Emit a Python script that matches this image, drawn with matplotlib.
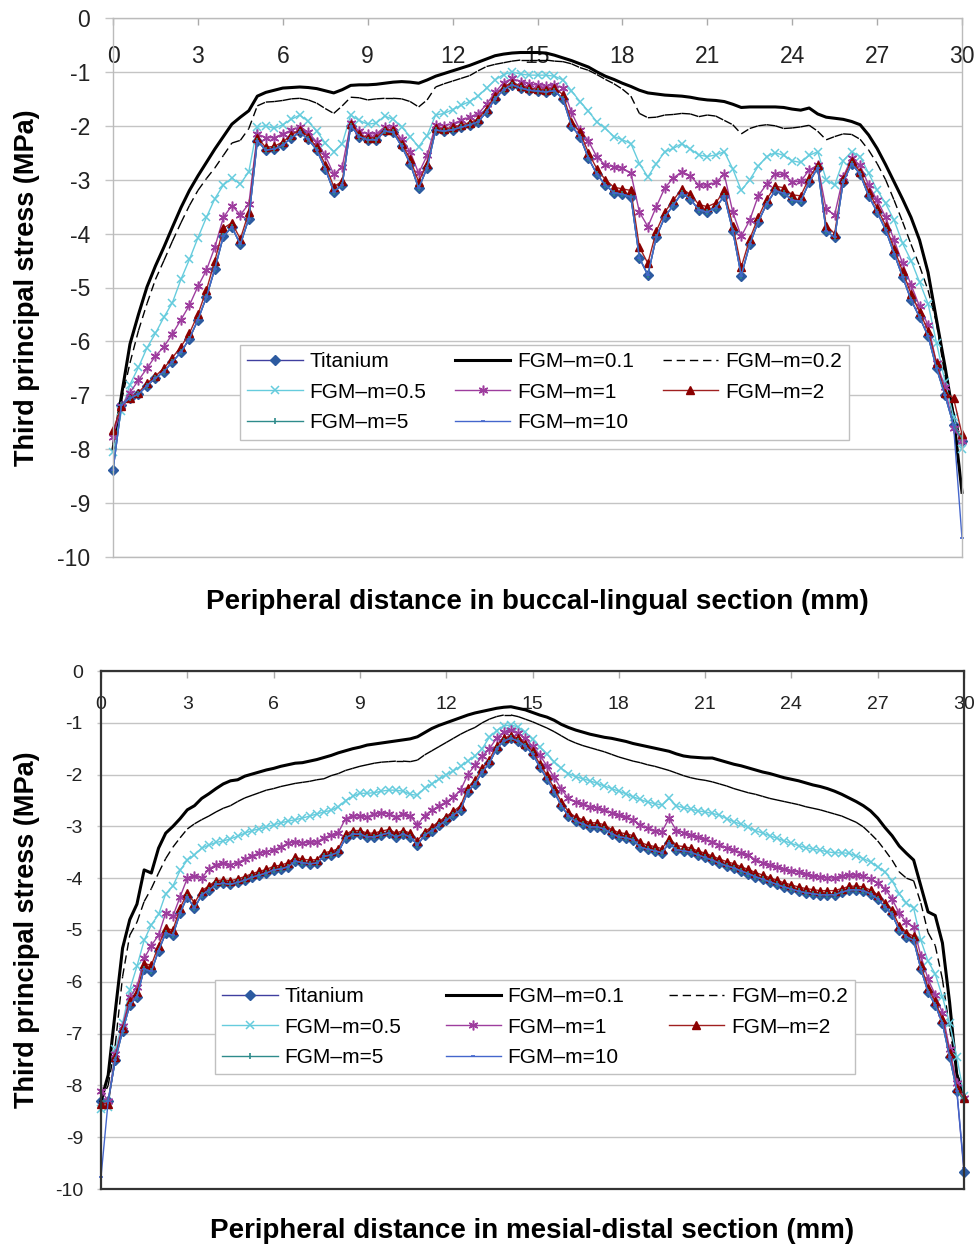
import numpy as np
import matplotlib
matplotlib.use("Agg")
import matplotlib.pyplot as plt
from matplotlib.collections import LineCollection
from matplotlib.lines import Line2D

plt.rcParams['font.family'] = ['Liberation Sans', 'DejaVu Sans']
plt.rcParams['axes.unicode_minus'] = False

# peripheral distance of the sampled nodes (mm)
x_bl = np.linspace(0, 30, 101)   # buccal-lingual section
x_md = np.linspace(0, 30, 121)   # mesial-distal section

# ---------------- buccal-lingual section (MPa) ----------------
titanium_bl = [-8.39, -7.18, -7.05, -6.98, -6.82, -6.68, -6.56, -6.38, -6.2, -5.95,
               -5.6, -5.18, -4.65, -4.05, -3.88, -4.2, -3.72, -2.28, -2.45, -2.43,
               -2.36, -2.22, -2.12, -2.25, -2.45, -2.8, -3.22, -3.1, -2.0, -2.2,
               -2.26, -2.26, -2.1, -2.12, -2.38, -2.7, -3.16, -2.78, -2.08, -2.1,
               -2.07, -2.03, -1.98, -1.93, -1.74, -1.5, -1.33, -1.24, -1.3, -1.34,
               -1.36, -1.37, -1.35, -1.5, -2.0, -2.2, -2.6, -2.9, -3.1, -3.24,
               -3.27, -3.32, -4.45, -4.77, -4.06, -3.69, -3.47, -3.25, -3.36, -3.56,
               -3.6, -3.52, -3.3, -3.95, -4.78, -4.2, -3.78, -3.45, -3.2, -3.25,
               -3.38, -3.4, -3.05, -2.78, -3.95, -4.07, -3.05, -2.7, -2.9, -3.3,
               -3.6, -3.93, -4.37, -4.8, -5.23, -5.55, -5.9, -6.5, -7.0, -7.55,
               -7.85]
fgm01_bl = [-8.0, -7.0, -6.05, -5.5, -4.99, -4.6, -4.25, -3.88, -3.52, -3.2,
            -2.93, -2.68, -2.43, -2.2, -1.97, -1.84, -1.72, -1.45, -1.38, -1.34,
            -1.3, -1.29, -1.28, -1.29, -1.31, -1.35, -1.39, -1.33, -1.25, -1.24,
            -1.24, -1.23, -1.21, -1.19, -1.18, -1.19, -1.21, -1.15, -1.08, -1.03,
            -0.98, -0.93, -0.88, -0.82, -0.76, -0.7, -0.67, -0.65, -0.64, -0.64,
            -0.64, -0.65, -0.69, -0.74, -0.79, -0.85, -0.91, -1.0, -1.08, -1.14,
            -1.21, -1.27, -1.34, -1.39, -1.41, -1.43, -1.44, -1.45, -1.47, -1.5,
            -1.52, -1.53, -1.55, -1.6, -1.66, -1.65, -1.65, -1.65, -1.65, -1.66,
            -1.69, -1.71, -1.67, -1.78, -1.84, -1.86, -1.88, -1.92, -1.98, -2.17,
            -2.42, -2.72, -3.04, -3.36, -3.7, -4.12, -4.72, -5.6, -6.47, -7.4,
            -8.8]
fgm02_bl = [-7.9, -7.1, -6.4, -5.8, -5.3, -4.85, -4.5, -4.14, -3.8, -3.48,
            -3.2, -2.98, -2.78, -2.55, -2.32, -2.27, -2.05, -1.63, -1.56, -1.55,
            -1.53, -1.5, -1.49, -1.52, -1.58, -1.68, -1.77, -1.63, -1.47, -1.48,
            -1.52, -1.5, -1.49, -1.49, -1.5, -1.55, -1.65, -1.52, -1.28, -1.22,
            -1.17, -1.12, -1.07, -0.98, -0.9, -0.86, -0.83, -0.8, -0.78, -0.78,
            -0.78, -0.78, -0.8, -0.81, -0.85, -0.92, -0.97, -1.05, -1.14, -1.22,
            -1.32, -1.45, -1.77, -1.85, -1.84, -1.8, -1.79, -1.77, -1.78, -1.83,
            -1.8, -1.82, -1.9, -1.98, -2.15, -2.05, -2.0, -1.98, -2.0, -2.05,
            -2.04, -2.02, -1.99, -2.1, -2.26, -2.2, -2.15, -2.16, -2.25, -2.45,
            -2.7, -3.0, -3.38, -3.78, -4.2, -4.6, -5.05, -5.66, -6.65, -7.3,
            -7.9]
fgm05_bl = [-8.05, -7.3, -6.8, -6.48, -6.12, -5.85, -5.55, -5.28, -4.85, -4.48,
            -4.08, -3.7, -3.35, -3.1, -2.97, -3.08, -2.85, -2.02, -2.0, -2.05,
            -1.98, -1.88, -1.8, -1.92, -2.1, -2.32, -2.48, -2.33, -1.8, -1.9,
            -1.97, -1.95, -1.82, -1.88, -2.02, -2.2, -2.39, -2.18, -1.8, -1.77,
            -1.7, -1.62, -1.55, -1.45, -1.3, -1.15, -1.05, -1.0, -1.04, -1.06,
            -1.06, -1.06, -1.08, -1.15, -1.35, -1.55, -1.73, -1.93, -2.05, -2.2,
            -2.26, -2.33, -2.7, -2.95, -2.7, -2.48, -2.42, -2.33, -2.43, -2.54,
            -2.57, -2.54, -2.48, -2.8, -3.2, -3.0, -2.75, -2.57, -2.5, -2.55,
            -2.65, -2.68, -2.55, -2.48, -3.0, -3.1, -2.65, -2.48, -2.57, -2.88,
            -3.19, -3.44, -3.75, -4.18, -4.5, -4.9, -5.3, -6.03, -6.75, -7.4,
            -8.0]
fgm1_bl = [-7.77, -7.2, -6.95, -6.72, -6.5, -6.27, -6.1, -5.86, -5.6, -5.33,
           -4.98, -4.68, -4.25, -3.7, -3.48, -3.65, -3.45, -2.15, -2.22, -2.22,
           -2.15, -2.08, -2.02, -2.12, -2.3, -2.55, -2.9, -2.76, -1.95, -2.1,
           -2.15, -2.15, -2.02, -2.03, -2.25, -2.48, -2.88, -2.55, -1.98, -2.0,
           -1.96, -1.9, -1.84, -1.78, -1.6, -1.38, -1.2, -1.12, -1.18, -1.22,
           -1.25, -1.27, -1.24, -1.3, -1.75, -2.08, -2.28, -2.58, -2.73, -2.76,
           -2.79, -2.88, -3.6, -3.87, -3.5, -3.15, -2.97, -2.85, -2.93, -3.1,
           -3.1, -3.05, -2.9, -3.6, -4.05, -3.75, -3.3, -3.08, -2.9, -2.9,
           -3.04, -3.03, -2.82, -2.73, -3.55, -3.65, -2.95, -2.6, -2.73, -3.1,
           -3.38, -3.69, -4.12, -4.55, -4.95, -5.35, -5.7, -6.4, -6.85, -7.6,
           -7.85]
fgm2_bl = [-7.65, -7.2, -7.05, -6.95, -6.78, -6.64, -6.5, -6.3, -6.1, -5.85,
           -5.5, -5.05, -4.5, -3.9, -3.8, -4.1, -3.6, -2.22, -2.4, -2.38,
           -2.3, -2.17, -2.07, -2.2, -2.4, -2.72, -3.13, -3.03, -1.97, -2.16,
           -2.22, -2.22, -2.07, -2.08, -2.33, -2.62, -3.04, -2.7, -2.04, -2.06,
           -2.03, -1.99, -1.94, -1.88, -1.68, -1.45, -1.28, -1.2, -1.26, -1.3,
           -1.32, -1.33, -1.3, -1.42, -1.93, -2.12, -2.5, -2.8, -3.0, -3.14,
           -3.17, -3.2, -4.25, -4.55, -3.95, -3.6, -3.38, -3.17, -3.27, -3.46,
           -3.5, -3.43, -3.2, -3.85, -4.62, -4.1, -3.7, -3.36, -3.12, -3.15,
           -3.28, -3.3, -2.97, -2.72, -3.85, -4.0, -2.98, -2.65, -2.85, -3.22,
           -3.52, -3.85, -4.28, -4.7, -5.12, -5.45, -5.8, -6.4, -6.95, -7.05,
           -7.72]
fgm5_bl = [-8.39, -7.18, -7.05, -6.98, -6.82, -6.68, -6.56, -6.38, -6.2, -5.95,
           -5.6, -5.18, -4.65, -4.05, -3.88, -4.2, -3.72, -2.28, -2.45, -2.43,
           -2.36, -2.22, -2.12, -2.25, -2.45, -2.8, -3.22, -3.1, -2.0, -2.2,
           -2.26, -2.26, -2.1, -2.12, -2.38, -2.7, -3.16, -2.78, -2.08, -2.1,
           -2.07, -2.03, -1.98, -1.93, -1.74, -1.5, -1.33, -1.24, -1.3, -1.34,
           -1.36, -1.37, -1.35, -1.5, -2.0, -2.2, -2.6, -2.9, -3.1, -3.24,
           -3.27, -3.32, -4.45, -4.77, -4.06, -3.69, -3.47, -3.25, -3.36, -3.56,
           -3.6, -3.52, -3.3, -3.95, -4.78, -4.2, -3.78, -3.45, -3.2, -3.25,
           -3.38, -3.4, -3.05, -2.78, -3.95, -4.07, -3.05, -2.7, -2.9, -3.3,
           -3.6, -3.93, -4.37, -4.8, -5.23, -5.55, -5.9, -6.5, -7.0, -7.55,
           -7.8]
fgm10_bl = [-8.39, -7.18, -7.05, -6.98, -6.82, -6.68, -6.56, -6.38, -6.2, -5.95,
            -5.6, -5.18, -4.65, -4.05, -3.88, -4.2, -3.72, -2.28, -2.45, -2.43,
            -2.36, -2.22, -2.12, -2.25, -2.45, -2.8, -3.22, -3.1, -2.0, -2.2,
            -2.26, -2.26, -2.1, -2.12, -2.38, -2.7, -3.16, -2.78, -2.08, -2.1,
            -2.07, -2.03, -1.98, -1.93, -1.74, -1.5, -1.33, -1.24, -1.3, -1.34,
            -1.36, -1.37, -1.35, -1.5, -2.0, -2.2, -2.6, -2.9, -3.1, -3.24,
            -3.27, -3.32, -4.45, -4.77, -4.06, -3.69, -3.47, -3.25, -3.36, -3.56,
            -3.6, -3.52, -3.3, -3.95, -4.78, -4.2, -3.78, -3.45, -3.2, -3.25,
            -3.38, -3.4, -3.05, -2.78, -3.95, -4.07, -3.05, -2.7, -2.9, -3.3,
            -3.6, -3.93, -4.37, -4.8, -5.23, -5.55, -5.9, -6.5, -7.0, -7.55,
            -9.65]

# ---------------- mesial-distal section (MPa) ----------------
titanium_md = [-8.3, -8.3, -7.5, -6.95, -6.45, -6.29, -5.75, -5.8, -5.4, -5.06,
               -5.1, -4.67, -4.36, -4.58, -4.32, -4.23, -4.12, -4.1, -4.12, -4.08,
               -4.04, -3.98, -3.94, -3.9, -3.84, -3.82, -3.78, -3.67, -3.7, -3.72,
               -3.71, -3.58, -3.55, -3.5, -3.22, -3.15, -3.15, -3.2, -3.2, -3.16,
               -3.13, -3.2, -3.15, -3.2, -3.36, -3.17, -3.08, -2.98, -2.88, -2.78,
               -2.68, -2.33, -2.18, -1.95, -1.78, -1.5, -1.35, -1.3, -1.35, -1.45,
               -1.6, -1.85, -2.08, -2.33, -2.6, -2.8, -2.9, -2.95, -3.01, -3.01,
               -3.05, -3.14, -3.2, -3.22, -3.26, -3.4, -3.44, -3.47, -3.51, -3.32,
               -3.45, -3.47, -3.5, -3.55, -3.6, -3.65, -3.71, -3.76, -3.8, -3.86,
               -3.91, -3.97, -4.02, -4.07, -4.12, -4.17, -4.21, -4.25, -4.28, -4.3,
               -4.32, -4.32, -4.32, -4.27, -4.23, -4.22, -4.24, -4.3, -4.4, -4.55,
               -4.7, -5.0, -5.13, -5.2, -5.75, -6.2, -6.45, -6.8, -7.45, -8.1,
               -9.67]
fgm01_md = [-8.3, -7.8, -6.55, -5.35, -4.8, -4.5, -3.84, -3.9, -3.42, -3.13,
            -3.0, -2.85, -2.68, -2.6, -2.46, -2.37, -2.27, -2.18, -2.12, -2.1,
            -2.03, -1.99, -1.95, -1.91, -1.88, -1.84, -1.81, -1.78, -1.77, -1.74,
            -1.71, -1.67, -1.63, -1.58, -1.54, -1.5, -1.47, -1.43, -1.41, -1.39,
            -1.37, -1.35, -1.33, -1.31, -1.27, -1.19, -1.11, -1.05, -1.0, -0.95,
            -0.9, -0.85, -0.81, -0.78, -0.75, -0.72, -0.7, -0.69, -0.72, -0.75,
            -0.8, -0.85, -0.89, -0.95, -1.03, -1.09, -1.14, -1.18, -1.22, -1.25,
            -1.28, -1.3, -1.33, -1.36, -1.4, -1.43, -1.46, -1.49, -1.52, -1.55,
            -1.6, -1.64, -1.66, -1.67, -1.68, -1.68, -1.72, -1.76, -1.8, -1.83,
            -1.87, -1.91, -1.95, -1.98, -2.02, -2.06, -2.09, -2.12, -2.16, -2.2,
            -2.23, -2.27, -2.32, -2.38, -2.45, -2.52, -2.6, -2.7, -2.84, -3.02,
            -3.18, -3.38, -3.52, -3.65, -4.15, -4.65, -4.72, -5.25, -6.4, -7.8,
            -8.2]
fgm02_md = [-8.3, -8.0, -7.2, -5.9, -5.1, -4.85, -4.45, -4.2, -3.9, -3.62,
            -3.4, -3.22, -3.05, -2.95, -2.87, -2.8, -2.72, -2.65, -2.6, -2.52,
            -2.45, -2.4, -2.35, -2.3, -2.27, -2.23, -2.2, -2.17, -2.15, -2.13,
            -2.1, -2.08, -2.02, -1.98, -1.92, -1.88, -1.84, -1.81, -1.78, -1.76,
            -1.75, -1.74, -1.74, -1.75, -1.72, -1.62, -1.54, -1.46, -1.38, -1.3,
            -1.22, -1.15, -1.09, -1.0, -0.93, -0.88, -0.85, -0.85, -0.88, -0.93,
            -0.98, -1.04, -1.1, -1.17, -1.25, -1.33, -1.39, -1.44, -1.48, -1.52,
            -1.56, -1.61, -1.66, -1.7, -1.74, -1.77, -1.81, -1.84, -1.88, -1.92,
            -1.97, -2.02, -2.06, -2.09, -2.11, -2.14, -2.18, -2.22, -2.27, -2.31,
            -2.35, -2.38, -2.42, -2.46, -2.49, -2.52, -2.55, -2.58, -2.62, -2.65,
            -2.68, -2.72, -2.76, -2.8, -2.86, -2.92, -3.01, -3.14, -3.28, -3.46,
            -3.65, -3.88, -4.0, -4.05, -4.48, -5.05, -5.3, -5.95, -6.9, -7.75,
            -8.15]
fgm05_md = [-8.45, -8.42, -7.3, -6.8, -6.15, -5.7, -5.2, -4.9, -4.7, -4.3,
            -4.15, -3.85, -3.65, -3.55, -3.42, -3.36, -3.31, -3.28, -3.24, -3.19,
            -3.13, -3.08, -3.05, -3.01, -2.97, -2.93, -2.9, -2.87, -2.84, -2.8,
            -2.76, -2.72, -2.69, -2.62, -2.5, -2.42, -2.36, -2.36, -2.35, -2.32,
            -2.3, -2.3, -2.32, -2.38, -2.4, -2.26, -2.18, -2.09, -2.0, -1.93,
            -1.84, -1.74, -1.64, -1.5, -1.28, -1.15, -1.06, -1.04, -1.08, -1.18,
            -1.32, -1.47, -1.6, -1.75, -1.88, -1.98, -2.04, -2.08, -2.12, -2.17,
            -2.22, -2.27, -2.32, -2.37, -2.43, -2.48, -2.53, -2.56, -2.59, -2.46,
            -2.6, -2.64, -2.67, -2.7, -2.72, -2.75, -2.78, -2.85, -2.91, -2.96,
            -3.02, -3.08, -3.13, -3.18, -3.23, -3.28, -3.33, -3.37, -3.41, -3.44,
            -3.46, -3.49, -3.51, -3.51, -3.52, -3.57, -3.62, -3.69, -3.78, -3.88,
            -4.05, -4.3, -4.48, -4.58, -5.2, -5.6, -5.85, -6.29, -6.8, -7.45,
            -8.2]
fgm1_md = [-8.1, -8.3, -7.4, -6.85, -6.3, -6.1, -5.55, -5.3, -5.1, -4.67,
           -4.73, -4.36, -4.0, -3.95, -4.0, -3.82, -3.74, -3.71, -3.74, -3.7,
           -3.63, -3.57, -3.52, -3.49, -3.46, -3.4, -3.32, -3.3, -3.32, -3.31,
           -3.3, -3.22, -3.17, -3.12, -2.85, -2.79, -2.8, -2.82, -2.76, -2.74,
           -2.76, -2.82, -2.76, -2.8, -2.97, -2.79, -2.69, -2.6, -2.53, -2.43,
           -2.3, -2.0, -1.82, -1.65, -1.5, -1.3, -1.18, -1.14, -1.2, -1.3,
           -1.45, -1.62, -1.83, -2.05, -2.28, -2.46, -2.53, -2.57, -2.62, -2.64,
           -2.68, -2.74, -2.78, -2.82, -2.88, -2.97, -3.04, -3.08, -3.1, -2.84,
           -3.08, -3.12, -3.16, -3.2, -3.25, -3.3, -3.36, -3.41, -3.46, -3.51,
           -3.56, -3.64, -3.7, -3.74, -3.78, -3.82, -3.86, -3.88, -3.91, -3.95,
           -3.98, -3.99, -4.0, -3.96, -3.94, -3.94, -3.96, -4.02, -4.1, -4.2,
           -4.4, -4.68, -4.85, -4.95, -5.5, -5.95, -6.25, -6.6, -7.3, -7.95,
           -8.25]
fgm2_md = [-8.35, -8.35, -7.45, -6.9, -6.38, -6.2, -5.65, -5.68, -5.3, -4.97,
           -5.0, -4.58, -4.28, -4.48, -4.24, -4.15, -4.05, -4.03, -4.05, -4.01,
           -3.97, -3.91, -3.87, -3.83, -3.77, -3.75, -3.7, -3.6, -3.63, -3.65,
           -3.64, -3.51, -3.48, -3.43, -3.15, -3.08, -3.08, -3.13, -3.13, -3.09,
           -3.06, -3.13, -3.08, -3.13, -3.28, -3.1, -3.01, -2.91, -2.81, -2.71,
           -2.6, -2.26, -2.11, -1.88, -1.71, -1.44, -1.3, -1.25, -1.3, -1.4,
           -1.55, -1.79, -2.01, -2.26, -2.52, -2.72, -2.82, -2.87, -2.93, -2.93,
           -2.97, -3.06, -3.12, -3.14, -3.18, -3.31, -3.36, -3.39, -3.43, -3.24,
           -3.37, -3.39, -3.42, -3.47, -3.52, -3.57, -3.63, -3.68, -3.72, -3.78,
           -3.83, -3.89, -3.94, -3.99, -4.04, -4.09, -4.13, -4.17, -4.2, -4.22,
           -4.24, -4.24, -4.24, -4.2, -4.16, -4.15, -4.17, -4.23, -4.32, -4.47,
           -4.62, -4.92, -5.05, -5.12, -5.67, -6.12, -6.38, -6.72, -7.38, -8.05,
           -8.25]
fgm5_md = [-8.3, -8.3, -7.5, -6.95, -6.45, -6.29, -5.75, -5.8, -5.4, -5.06,
           -5.1, -4.67, -4.36, -4.58, -4.32, -4.23, -4.12, -4.1, -4.12, -4.08,
           -4.04, -3.98, -3.94, -3.9, -3.84, -3.82, -3.78, -3.67, -3.7, -3.72,
           -3.71, -3.58, -3.55, -3.5, -3.22, -3.15, -3.15, -3.2, -3.2, -3.16,
           -3.13, -3.2, -3.15, -3.2, -3.36, -3.17, -3.08, -2.98, -2.88, -2.78,
           -2.68, -2.33, -2.18, -1.95, -1.78, -1.5, -1.35, -1.3, -1.35, -1.45,
           -1.6, -1.85, -2.08, -2.33, -2.6, -2.8, -2.9, -2.95, -3.01, -3.01,
           -3.05, -3.14, -3.2, -3.22, -3.26, -3.4, -3.44, -3.47, -3.51, -3.32,
           -3.45, -3.47, -3.5, -3.55, -3.6, -3.65, -3.71, -3.76, -3.8, -3.86,
           -3.91, -3.97, -4.02, -4.07, -4.12, -4.17, -4.21, -4.25, -4.28, -4.3,
           -4.32, -4.32, -4.32, -4.27, -4.23, -4.22, -4.24, -4.3, -4.4, -4.55,
           -4.7, -5.0, -5.13, -5.2, -5.75, -6.2, -6.45, -6.8, -7.45, -8.1,
           -8.28]
fgm10_md = [-9.77, -8.3, -7.5, -6.95, -6.45, -6.29, -5.75, -5.8, -5.4, -5.06,
            -5.1, -4.67, -4.36, -4.58, -4.32, -4.23, -4.12, -4.1, -4.12, -4.08,
            -4.04, -3.98, -3.94, -3.9, -3.84, -3.82, -3.78, -3.67, -3.7, -3.72,
            -3.71, -3.58, -3.55, -3.5, -3.22, -3.15, -3.15, -3.2, -3.2, -3.16,
            -3.13, -3.2, -3.15, -3.2, -3.36, -3.17, -3.08, -2.98, -2.88, -2.78,
            -2.68, -2.33, -2.18, -1.95, -1.78, -1.5, -1.35, -1.3, -1.35, -1.45,
            -1.6, -1.85, -2.08, -2.33, -2.6, -2.8, -2.9, -2.95, -3.01, -3.01,
            -3.05, -3.14, -3.2, -3.22, -3.26, -3.4, -3.44, -3.47, -3.51, -3.32,
            -3.45, -3.47, -3.5, -3.55, -3.6, -3.65, -3.71, -3.76, -3.8, -3.86,
            -3.91, -3.97, -4.02, -4.07, -4.12, -4.17, -4.21, -4.25, -4.28, -4.3,
            -4.32, -4.32, -4.32, -4.27, -4.23, -4.22, -4.24, -4.3, -4.4, -4.55,
            -4.7, -5.0, -5.13, -5.2, -5.75, -6.2, -6.45, -6.8, -7.45, -8.1,
            -9.6]

labels = ['Titanium', 'FGM\u2013m=0.1', 'FGM\u2013m=0.2', 'FGM\u2013m=0.5',
          'FGM\u2013m=1', 'FGM\u2013m=2', 'FGM\u2013m=5', 'FGM\u2013m=10']

styles = [
    dict(color='#3F3F9F', lw=1.0, marker='D', ms=5.5, mfc='#2C5AA0', mec='#2C5AA0'),
    dict(color='black', lw=2.2),
    None,  # dashed, drawn segment by segment like Excel does
    dict(color='#66CCDD', lw=1.0, marker='x', ms=6, mew=1.1),
    dict(color='#9E3D9E', lw=1.0, marker=(6, 2, 0), ms=7, mew=1.1),
    dict(color='#A02020', lw=1.0, marker='^', ms=5.5, mfc='#8B0000', mec='#8B0000'),
    dict(color='#2E8B8B', lw=1.0, marker='|', ms=4.5, mew=1.2),
    dict(color='#4466CC', lw=1.0, marker='_', ms=3.5, mew=1.2),
]
DASH = (0, (6, 3.5))


def draw_panel(ax, x, ys, tick_fs, xpad, ypad, ylen, frame_color, frame_lw,
               xlabel, xlabelpad, ylabel_x, leg_box):
    handles = []
    for y, st in zip(ys, styles):
        if st is None:
            pts = np.column_stack([x, y])
            segs = np.stack([pts[:-1], pts[1:]], axis=1)
            lc = LineCollection(segs, colors='black', linewidths=1.0,
                                linestyles=[DASH], clip_on=False)
            ax.add_collection(lc)
            handles.append(Line2D([], [], color='black', lw=1.0, ls=DASH))
        else:
            h, = ax.plot(x, y, clip_on=False, **st)
            handles.append(h)

    ax.set_xlim(0, 30)
    ax.set_ylim(-10, 0)
    ax.set_xticks(range(0, 31, 3))
    ax.set_yticks(range(-10, 1))
    ax.grid(axis='y', color='#C4C4C4', lw=1.0)
    ax.grid(axis='x', visible=False)
    ax.set_axisbelow(True)
    for sp in ax.spines.values():
        sp.set_color(frame_color)
        sp.set_linewidth(frame_lw)
    ax.tick_params(axis='x', top=True, bottom=False, labeltop=True, labelbottom=False,
                   direction='in', length=5, width=1, color='#AAAAAA',
                   pad=xpad, labelsize=tick_fs, labelcolor='#222222')
    ax.tick_params(axis='y', direction='out', length=ylen, width=1, color='#C4C4C4',
                   pad=ypad, labelsize=tick_fs, labelcolor='#222222')

    ax.set_xlabel(xlabel, fontsize=20, fontweight='bold', labelpad=xlabelpad)
    ax.set_ylabel('Third principal stress (MPa)', fontsize=19.5, fontweight='bold')
    ax.yaxis.set_label_coords(ylabel_x, 0.5)

    order = [0, 3, 6, 1, 4, 7, 2, 5]
    leg = ax.legend([handles[i] for i in order], [labels[i] for i in order],
                    ncol=3, loc='upper left', bbox_to_anchor=leg_box, mode='expand',
                    borderaxespad=0, fontsize=15, handlelength=2.65,
                    handletextpad=0.33, labelspacing=0.55,
                    borderpad=0.35, fancybox=False, framealpha=1)
    leg.get_frame().set_edgecolor('#C0C0C0')
    leg.get_frame().set_linewidth(1.0)


fig = plt.figure(figsize=(9.77, 12.47), dpi=100)

ax1 = fig.add_axes([113 / 977, 1 - 557 / 1247, 849 / 977, 539 / 1247])
draw_panel(ax1, x_bl,
           [titanium_bl, fgm01_bl, fgm02_bl, fgm05_bl, fgm1_bl, fgm2_bl, fgm5_bl, fgm10_bl],
           tick_fs=16.5, xpad=-36, ypad=10.5, ylen=6, frame_color='#BBBBBB', frame_lw=1.0,
           xlabel='Peripheral distance in buccal-lingual section (mm)', xlabelpad=23,
           ylabel_x=-0.086, leg_box=(0.1496, 0.3933 - 0.1763, 0.7173, 0.1763))

ax2 = fig.add_axes([101 / 977, 1 - 1189 / 1247, 863 / 977, 518 / 1247])
draw_panel(ax2, x_md,
           [titanium_md, fgm01_md, fgm02_md, fgm05_md, fgm1_md, fgm2_md, fgm5_md, fgm10_md],
           tick_fs=14, xpad=-30, ypad=10, ylen=3, frame_color='#333333', frame_lw=1.6,
           xlabel='Peripheral distance in mesial-distal section (mm)', xlabelpad=21,
           ylabel_x=-0.0707, leg_box=(0.1321, 0.4035 - 0.1815, 0.7416, 0.1815))

fig.savefig('out.png', dpi=100)
